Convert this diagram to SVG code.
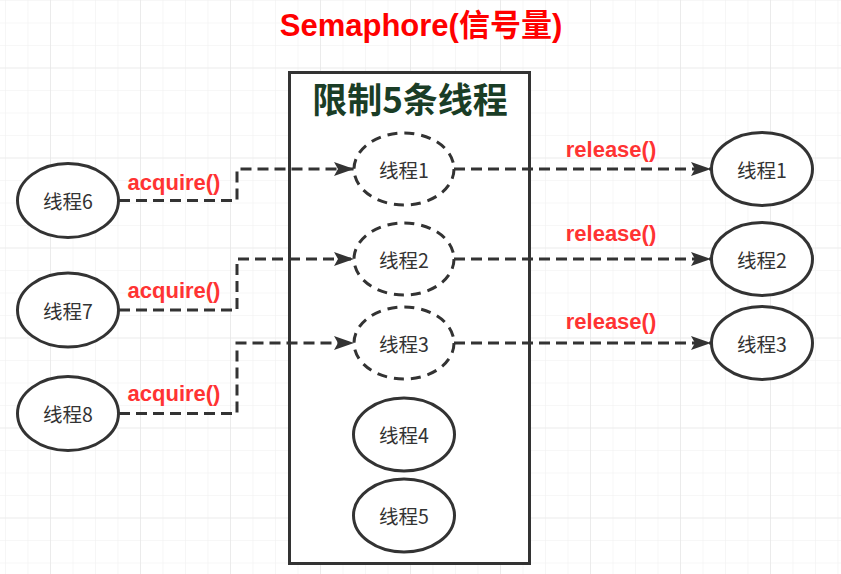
<svg xmlns="http://www.w3.org/2000/svg" width="841" height="574" viewBox="0 0 841 574">
<defs>
<pattern id="minor" x="5" y="0" width="22.5" height="22.5" patternUnits="userSpaceOnUse">
<path d="M0 0V22.5M0 0H22.5" fill="none" stroke="#f0f0f0" stroke-width="1.2"/>
</pattern>
<pattern id="major" x="50" y="67.5" width="90" height="90" patternUnits="userSpaceOnUse">
<path d="M0 0V90M0 0H90" fill="none" stroke="#e4e4e4" stroke-width="1.2"/>
</pattern>
<marker id="ah" viewBox="0 0 20 14" refX="20" refY="7" markerWidth="20" markerHeight="14" markerUnits="userSpaceOnUse" orient="auto">
<path d="M0 0L20 7L0 14L4 7Z" fill="#333"/>
</marker>
</defs>
<style>
.node ellipse{fill:#fff;stroke:#333;stroke-width:3}
.node.dash ellipse{stroke-dasharray:10 7}
.node text{font-family:"Noto Sans CJK SC","Liberation Sans",sans-serif;font-size:19.5px;fill:#333;text-anchor:middle;dominant-baseline:central}
.conn path{fill:none;stroke:#333;stroke-width:3;stroke-dasharray:11 6;marker-end:url(#ah)}
.lbl{font-family:"Liberation Sans","Noto Sans CJK SC",sans-serif;font-weight:bold;font-size:22px;fill:#ff3333;text-anchor:middle;dominant-baseline:central}
</style>
<rect width="841" height="574" fill="#fff"/>
<rect width="841" height="574" fill="url(#minor)"/>
<rect width="841" height="574" fill="url(#major)"/>
<text x="421" y="25" font-family="Liberation Sans,'Noto Sans CJK SC',sans-serif" font-weight="bold" font-size="31" fill="#ff0000" text-anchor="middle" dominant-baseline="central">Semaphore(信号量)</text>
<g id="container">
<rect x="289.5" y="72.5" width="240" height="491" fill="#fff" stroke="#333" stroke-width="3"/>
<text x="410" y="97" font-family="'Noto Sans CJK SC',sans-serif" font-weight="bold" font-size="35" fill="#1a3d26" text-anchor="middle" dominant-baseline="central">限制5条线程</text>
</g>
<g id="t6" class="node"><ellipse cx="68" cy="200.5" rx="50.5" ry="37"/><text x="68" y="200.5">线程6</text></g>
<g id="t7" class="node"><ellipse cx="68" cy="310" rx="50.5" ry="37"/><text x="68" y="310">线程7</text></g>
<g id="t8" class="node"><ellipse cx="68" cy="413.5" rx="50.5" ry="37"/><text x="68" y="413.5">线程8</text></g>
<g id="in1" class="node dash"><ellipse cx="404" cy="169" rx="50" ry="36"/><text x="404" y="169">线程1</text></g>
<g id="in2" class="node dash"><ellipse cx="404" cy="259" rx="50" ry="36"/><text x="404" y="259">线程2</text></g>
<g id="in3" class="node dash"><ellipse cx="404" cy="343" rx="50" ry="36"/><text x="404" y="343">线程3</text></g>
<g id="in4" class="node"><ellipse cx="404" cy="434.5" rx="50.5" ry="36.5"/><text x="404" y="434.5">线程4</text></g>
<g id="in5" class="node"><ellipse cx="404" cy="515.5" rx="50.5" ry="36.5"/><text x="404" y="515.5">线程5</text></g>
<g id="out1" class="node"><ellipse cx="762" cy="169" rx="50.5" ry="36.5"/><text x="762" y="169">线程1</text></g>
<g id="out2" class="node"><ellipse cx="762" cy="259" rx="50.5" ry="36.5"/><text x="762" y="259">线程2</text></g>
<g id="out3" class="node"><ellipse cx="762" cy="343" rx="50.5" ry="36.5"/><text x="762" y="343">线程3</text></g>
<g id="connectors" class="conn">
<path d="M119 200.5H237V169H354"/>
<path d="M119 310H237V259H354"/>
<path d="M119 413.5H237V343H354"/>
<path d="M454 169H711"/>
<path d="M454 259H711"/>
<path d="M454 343H711"/>
</g>
<g id="labels">
<text class="lbl" x="174" y="182">acquire()</text>
<text class="lbl" x="174" y="290">acquire()</text>
<text class="lbl" x="174" y="393">acquire()</text>
<text class="lbl" x="611" y="149">release()</text>
<text class="lbl" x="611" y="233">release()</text>
<text class="lbl" x="611" y="321">release()</text>
</g>
</svg>
